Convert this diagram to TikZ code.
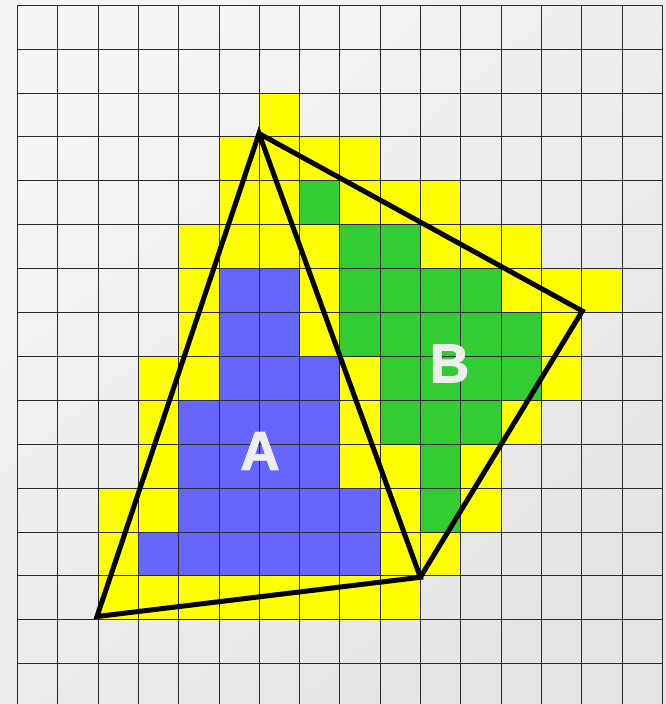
\documentclass[tikz,border=0pt]{standalone}
\usepackage{fontspec}
\newfontfamily\labfont{Liberation Sans}[BoldFeatures={FakeBold=1.6}]
\definecolor{cellY}{HTML}{FFFF00}
\definecolor{cellG}{HTML}{33CC33}
\definecolor{cellB}{HTML}{6666FF}
\definecolor{gridc}{HTML}{2A2A2A}
\definecolor{labc}{HTML}{EEEEEE}
\definecolor{bgA}{HTML}{F5F5F5}
\definecolor{bgB}{HTML}{E4E4E4}
\begin{document}
\begin{tikzpicture}[x=1pt,y=-1pt,
  gridline/.style={draw=gridc,line width=1.2pt},
  edge/.style={draw=black,line width=5pt,line join=miter},
  lab/.style={font=\labfont\bfseries\fontsize{55}{55}\selectfont,text=labc,inner sep=0pt}]
\useasboundingbox (0,0) rectangle (666,704);
\shade[top color=bgA,bottom color=bgB,shading angle=40] (0,0) rectangle (666,704);
% yellow cells
\foreach \r/\cs in {2/{6},3/{5,6,7,8},4/{5,6,8,9,10},5/{4,5,6,7,10,11,12},
  6/{4,7,12,13,14},7/{4,7,13},8/{3,4,8,13},9/{3,8,12},10/{3,8,9,11},
  11/{2,3,9,11},12/{2,9,10},13/{2,3,4,5,6,7,8,9}}
  \foreach \c in \cs
    \fill[cellY] ({17.5+40.3*\c},{5.3+43.9*\r}) rectangle ++(40.3,43.9);
% green cells
\foreach \r/\cs in {4/{7},5/{8,9},6/{8,9,10,11},7/{8,9,10,11,12},8/{9,10,11,12},
  9/{9,10,11},10/{10},11/{10}}
  \foreach \c in \cs
    \fill[cellG] ({17.5+40.3*\c},{5.3+43.9*\r}) rectangle ++(40.3,43.9);
% blue cells
\foreach \r/\cs in {6/{5,6},7/{5,6},8/{5,6,7},9/{4,5,6,7},10/{4,5,6,7},
  11/{4,5,6,7,8},12/{3,4,5,6,7,8}}
  \foreach \c in \cs
    \fill[cellB] ({17.5+40.3*\c},{5.3+43.9*\r}) rectangle ++(40.3,43.9);
% grid
\foreach \k in {0,...,16}
  \draw[gridline] ({floor(17.5+40.3*\k)+0.5},5) -- ({floor(17.5+40.3*\k)+0.5},704);
\foreach \k in {0,...,15}
  \draw[gridline] (17,{floor(5.3+43.9*\k)+0.5}) -- (663,{floor(5.3+43.9*\k)+0.5});
% triangles
\coordinate (T) at (259,133.5);
\coordinate (L) at (97,616.5);
\coordinate (R) at (420.3,577.3);
\coordinate (E) at (582.3,311);
\draw[edge] (T) -- (L) -- (R) -- cycle;
\draw[edge] (T) -- (E) -- (R);
% labels
\node[lab] (A) at (260,451) {A};
\node[lab] (B) at (449.5,363.5) {B};
\end{tikzpicture}
\end{document}
